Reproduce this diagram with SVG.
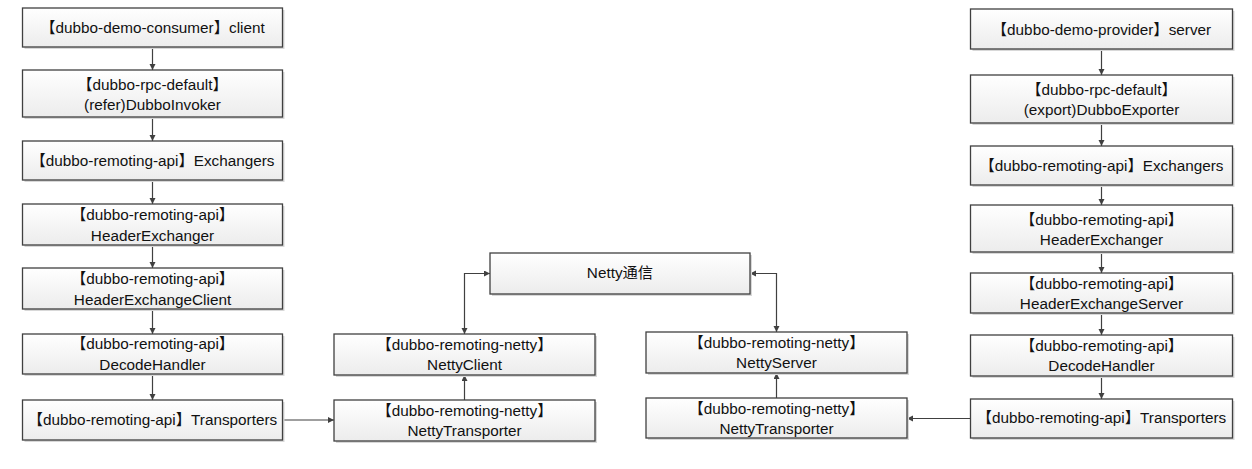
<svg xmlns="http://www.w3.org/2000/svg" width="1252" height="469" viewBox="0 0 1252 469">
<defs>
<linearGradient id="g" x1="0" y1="0" x2="0" y2="1">
<stop offset="0" stop-color="#ffffff"/>
<stop offset="1" stop-color="#ececec"/>
</linearGradient>
<marker id="ah" markerUnits="userSpaceOnUse" markerWidth="7" markerHeight="7" refX="6" refY="3" orient="auto-start-reverse">
<path d="M0,0 L6,3 L0,6 z" fill="#404040"/>
</marker>
</defs>
<style>
.box{fill:url(#g);stroke:#404040;stroke-width:1.3}
.sh{fill:#d8d8d8}
text{font-family:"Liberation Sans","Noto Sans CJK SC",sans-serif;font-size:15.3px;fill:#111;text-anchor:middle}
.c{fill:none;stroke:#404040;stroke-width:1.2;marker-end:url(#ah)}
.b{marker-start:url(#ah)}
</style>
<rect width="1252" height="469" fill="#fff"/>

<g id="connectors">
<path class="c" d="M152.5,47 V70"/>
<path class="c" d="M152.5,117 V141"/>
<path class="c" d="M152.5,180 V204"/>
<path class="c" d="M152.5,245 V268"/>
<path class="c" d="M152.5,309 V334"/>
<path class="c" d="M152.5,374 V400"/>
<path class="c" d="M1101.5,49 V75"/>
<path class="c" d="M1101.5,123 V146"/>
<path class="c" d="M1101.5,185 V205"/>
<path class="c" d="M1101.5,252 V273"/>
<path class="c" d="M1101.5,313 V335"/>
<path class="c" d="M1101.5,376 V399"/>
<path class="c" d="M282.5,420 H334"/>
<path class="c" d="M464.5,400 V375"/>
<path class="c b" d="M464.5,334 V273.5 H490"/>
<path class="c" d="M776.5,398 V373"/>
<path class="c b" d="M776.5,332 V273.5 H750"/>
<path class="c" d="M970.5,418.5 H907"/>
</g>

<g id="consumer">
<rect class="sh" x="24.5" y="10" width="260" height="39"/>
<rect class="box" x="22.5" y="8" width="260" height="39"/>
<text x="152.5" y="33">【dubbo-demo-consumer】client</text>
</g>
<g id="dubbo-invoker">
<rect class="sh" x="24.5" y="72" width="260" height="47"/>
<rect class="box" x="22.5" y="70" width="260" height="47"/>
<text x="152.5" y="90">【dubbo-rpc-default】</text>
<text x="152.5" y="110">(refer)DubboInvoker</text>
</g>
<g id="exchangers-l">
<rect class="sh" x="24.5" y="143" width="260" height="39"/>
<rect class="box" x="22.5" y="141" width="260" height="39"/>
<text x="152.5" y="166">【dubbo-remoting-api】Exchangers</text>
</g>
<g id="header-exchanger-l">
<rect class="sh" x="24.5" y="206" width="260" height="41"/>
<rect class="box" x="22.5" y="204" width="260" height="41"/>
<text x="152.5" y="220">【dubbo-remoting-api】</text>
<text x="152.5" y="241">HeaderExchanger</text>
</g>
<g id="header-exchange-client">
<rect class="sh" x="24.5" y="270" width="260" height="41"/>
<rect class="box" x="22.5" y="268" width="260" height="41"/>
<text x="152.5" y="284">【dubbo-remoting-api】</text>
<text x="152.5" y="305">HeaderExchangeClient</text>
</g>
<g id="decode-handler-l">
<rect class="sh" x="24.5" y="336" width="260" height="40"/>
<rect class="box" x="22.5" y="334" width="260" height="40"/>
<text x="152.5" y="349">【dubbo-remoting-api】</text>
<text x="152.5" y="370">DecodeHandler</text>
</g>
<g id="transporters-l">
<rect class="sh" x="24.5" y="402" width="260" height="40"/>
<rect class="box" x="22.5" y="400" width="260" height="40"/>
<text x="152.5" y="425">【dubbo-remoting-api】Transporters</text>
</g>

<g id="netty">
<rect class="sh" x="492" y="255" width="260" height="41"/>
<rect class="box" x="490" y="253" width="260" height="41"/>
<text x="620" y="278">Netty通信</text>
</g>
<g id="netty-client">
<rect class="sh" x="336" y="336" width="261" height="41"/>
<rect class="box" x="334" y="334" width="261" height="41"/>
<text x="464.5" y="350">【dubbo-remoting-netty】</text>
<text x="464.5" y="370">NettyClient</text>
</g>
<g id="netty-transporter-l">
<rect class="sh" x="336" y="402" width="261" height="41"/>
<rect class="box" x="334" y="400" width="261" height="41"/>
<text x="464.5" y="416">【dubbo-remoting-netty】</text>
<text x="464.5" y="436">NettyTransporter</text>
</g>
<g id="netty-server">
<rect class="sh" x="648" y="334" width="261" height="41"/>
<rect class="box" x="646" y="332" width="261" height="41"/>
<text x="776.5" y="348">【dubbo-remoting-netty】</text>
<text x="776.5" y="368">NettyServer</text>
</g>
<g id="netty-transporter-r">
<rect class="sh" x="648" y="400" width="261" height="40"/>
<rect class="box" x="646" y="398" width="261" height="40"/>
<text x="776.5" y="414">【dubbo-remoting-netty】</text>
<text x="776.5" y="434">NettyTransporter</text>
</g>

<g id="provider">
<rect class="sh" x="972.5" y="11" width="262" height="40"/>
<rect class="box" x="970.5" y="9" width="262" height="40"/>
<text x="1101.5" y="35">【dubbo-demo-provider】server</text>
</g>
<g id="dubbo-exporter">
<rect class="sh" x="972.5" y="77" width="262" height="48"/>
<rect class="box" x="970.5" y="75" width="262" height="48"/>
<text x="1101.5" y="95">【dubbo-rpc-default】</text>
<text x="1101.5" y="115">(export)DubboExporter</text>
</g>
<g id="exchangers-r">
<rect class="sh" x="972.5" y="148" width="262" height="39"/>
<rect class="box" x="970.5" y="146" width="262" height="39"/>
<text x="1101.5" y="171">【dubbo-remoting-api】Exchangers</text>
</g>
<g id="header-exchanger-r">
<rect class="sh" x="972.5" y="207" width="262" height="47"/>
<rect class="box" x="970.5" y="205" width="262" height="47"/>
<text x="1101.5" y="225">【dubbo-remoting-api】</text>
<text x="1101.5" y="245">HeaderExchanger</text>
</g>
<g id="header-exchange-server">
<rect class="sh" x="972.5" y="275" width="262" height="40"/>
<rect class="box" x="970.5" y="273" width="262" height="40"/>
<text x="1101.5" y="289">【dubbo-remoting-api】</text>
<text x="1101.5" y="309">HeaderExchangeServer</text>
</g>
<g id="decode-handler-r">
<rect class="sh" x="972.5" y="337" width="262" height="41"/>
<rect class="box" x="970.5" y="335" width="262" height="41"/>
<text x="1101.5" y="351">【dubbo-remoting-api】</text>
<text x="1101.5" y="371">DecodeHandler</text>
</g>
<g id="transporters-r">
<rect class="sh" x="972.5" y="401" width="262" height="39"/>
<rect class="box" x="970.5" y="399" width="262" height="39"/>
<text x="1101.5" y="423">【dubbo-remoting-api】Transporters</text>
</g>
</svg>
